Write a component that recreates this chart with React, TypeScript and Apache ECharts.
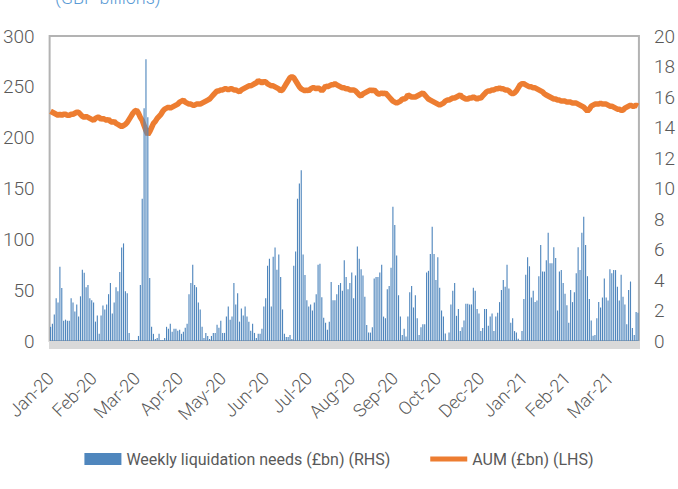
import React, { useEffect, useRef } from "react";
import * as echarts from "echarts";

// Tick labels shown on the category axis (one every labelStep trading days)
const tickLabels = ["Jan-20", "Feb-20", "Mar-20", "Apr-20", "May-20", "Jun-20", "Jul-20", "Aug-20", "Sep-20", "Oct-20", "Dec-20", "Jan-21", "Feb-21", "Mar-21"];
const labelStep = 23;

// Weekly liquidation needs (£bn), RHS
const liquidation = [
  0.93, 1.13, 1.73, 2.8, 2.53, 4.87, 3.47, 1.33, 1.4, 1.33,
  1.33, 2.8, 2.53, 1.93, 2.4, 1.6, 2.93, 4.67, 4.47, 3.53,
  3.67, 2.8, 2.67, 2.53, 1.27, 1.67, 0.47, 1.67, 2.33, 2.07,
  2.4, 3.07, 3.8, 1.8, 2.53, 3.53, 3.27, 4.53, 6.13, 6.4,
  3.27, 3.13, 0.53, 0.07, 0.07, 0.07, 0.07, 0.33, 3.67, 9.33,
  15.27, 18.47, 14.67, 4.13, 0.93, 0.47, 0.13, 0.2, 0.47, 0.07,
  0.07, 0.2, 0.93, 0.8, 1.13, 0.6, 0.8, 0.8, 0.67, 0.73,
  0.47, 0.6, 0.87, 1.13, 3.07, 3.8, 5.0, 3.67, 3.53, 2.53,
  2.07, 0.93, 0.2, 0.53, 0.33, 0.13, 0.33, 0.53, 0.53, 1.07,
  0.87, 1.33, 0.53, 0.53, 1.6, 2.27, 1.4, 1.6, 3.8, 2.4,
  3.13, 1.27, 2.13, 1.67, 2.27, 1.6, 1.27, 0.67, 1.13, 0.53,
  0.2, 0.47, 0.47, 0.8, 2.27, 2.8, 4.93, 5.4, 2.27, 5.53,
  6.13, 4.67, 5.67, 4.2, 2.07, 0.47, 0.27, 0.27, 0.4, 0.13,
  4.93, 5.87, 9.33, 10.33, 11.2, 5.67, 4.33, 2.67, 2.27, 2.4,
  2.0, 2.53, 3.07, 5.0, 5.07, 2.87, 1.53, 1.2, 0.73, 1.27,
  3.87, 2.67, 2.67, 3.07, 3.67,
  3.8, 3.3, 5.3, 4.2, 3.4, 3.8, 4.5, 2.8, 4.3, 6.2,
  5.4, 4.7, 4.3, 2.9, 1.05, 0.55, 0.55, 0.9, 4.1, 4.2,
  4.2, 4.5, 5.0, 1.6, 1.5, 3.4, 3.6, 4.8, 8.8, 7.6,
  5.6, 3.0, 1.6, 0.4, 0.8, 0.3, 1.6, 3.2, 3.6, 2.2,
  3.0, 1.5, 0.4, 0.9, 1.1, 1.1, 4.5, 4.6, 5.7, 7.5,
  5.7, 4.0, 5.5, 3.5, 2.0, 1.6, 0.5, 0, 0.55, 2.4,
  3.3, 3.8, 1.65, 2.1, 0.65, 0.9, 1.35, 2.45, 2.45, 2.4,
  2.4, 3.5, 3.3, 2.1, 1.8, 0.65, 0.85, 2.1, 2.1, 1.0,
  1.6, 1.8, 0.65, 1.6, 1.85, 2.55, 3.35, 4.0, 3.55, 5.0,
  3.45, 1.2, 1.5, 0.65, 0.55, 0.15, 0.05, 0.65, 2.75, 4.35,
  5.5, 4.9, 2.85, 3.3, 2.55, 2.65, 4.25, 6.3, 4.55, 4.55,
  5.3, 7.1, 5.1, 5.1, 6.15, 5.45, 2.0, 4.55, 4.65, 3.8,
  3.1, 2.35, 1.2, 3.35, 2.55, 3.2, 4.45, 6.15, 4.65, 7.1,
  8.15, 6.3, 4.25, 2.75, 1.35, 0.35, 0.4, 1.5, 2.55, 2.2,
  2.85, 4.1, 2.85, 2.65, 4.7, 4.45, 4.65, 4.65, 3.55, 2.65,
  4.35, 2.9, 2.4, 1.1, 3.35, 3.9, 0.85, 0.4, 1.9, 1.85,
];

// AUM (£bn), LHS
const aum = [
  226, 225, 224, 223, 222, 223, 222, 223, 223, 222,
  222, 223, 223, 224, 225, 225, 223, 221, 220, 221,
  220, 219, 218, 217, 219, 220, 220, 218, 219, 218,
  217, 218, 216, 215, 216, 214, 213, 212, 211, 212,
  213, 215, 218, 221, 224, 226, 227, 224, 220, 217,
  212, 207, 203, 206, 210, 214, 216, 219, 221, 223,
  226, 228, 229, 230, 229, 230, 231, 232, 233, 235,
  236, 237, 235, 234, 233, 233, 232, 232, 233, 233,
  233, 234, 235, 236, 237, 238, 240, 242, 244, 246,
  246, 247, 247, 248, 248, 247, 248, 248, 247, 247,
  246, 245, 247, 248, 249, 250, 251, 251, 252, 253,
  254, 256, 255, 254, 255, 255, 253, 252, 251, 251,
  250, 249, 248, 246, 247, 250, 253, 256, 259, 260,
  259, 256, 253, 250, 248, 247, 246, 247, 246, 248,
  249, 249, 248, 249, 248, 246, 248, 251, 250, 251,
  252, 252, 253, 252, 251, 250, 249, 249, 248, 248,
  247, 247, 247, 246, 244, 242, 241, 243, 244, 245,
  246, 247, 246, 247, 245, 243, 243, 244, 243, 244,
  242, 240, 238, 236, 235, 234, 235, 236, 238, 238,
  239, 242, 241, 240, 240, 240, 241, 242, 243, 244,
  242, 240, 238, 237, 236, 235, 234, 233, 232, 233,
  234, 236, 237, 237, 238, 239, 239, 240, 241, 242,
  240, 239, 238, 238, 239, 239, 240, 239, 238, 239,
  239, 241, 243, 245, 246, 246, 247, 247, 248, 248,
  249, 248, 248, 247, 247, 246, 244, 243, 244, 246,
  249, 252, 253, 253, 252, 251, 250, 250, 249, 249,
  248, 247, 246, 245, 243, 242, 241, 240, 239, 238,
  238, 237, 237, 236, 236, 236, 235, 235, 235, 234,
  234, 234, 233, 232, 231, 230, 228, 226, 228, 231,
  232, 233, 233, 233, 234, 233, 233, 233, 232, 231,
  231, 230, 229, 228, 228, 227, 227, 229, 230, 231,
  232, 231, 231, 232, 231,
];

const categories = aum.map((_, i) => String(i));

const FONT = "Roboto, 'Liberation Sans', sans-serif";
const TEXT = "#595959";

export default function App() {
  const ref = useRef<HTMLDivElement>(null);
  useEffect(() => {
    if (!ref.current) return;
    const chart = echarts.init(ref.current, null, { renderer: "svg" });
    chart.setOption({
      animation: false,
      backgroundColor: "#ffffff",
      textStyle: { fontFamily: FONT },
      graphic: [
        {
          type: "text",
          left: 55,
          top: -12,
          style: { text: "(GBP billions)", fill: "#5b9bd5", font: `300 18px ${FONT}` },
        },
      ],
      grid: {
        left: 47,
        right: 37,
        top: 36,
        bottom: 148,
        show: true,
        borderColor: "#b3b3b3",
        borderWidth: 2,
      },
      legend: {
        bottom: 17,
        left: "center",
        itemWidth: 37,
        itemHeight: 12,
        itemGap: 40,
        symbolKeepAspect: true,
        textStyle: { color: TEXT, fontSize: 16, fontWeight: 400, fontFamily: FONT },
        data: [
          { name: "Weekly liquidation needs (£bn) (RHS)", icon: "rect" },
          { name: "AUM (£bn) (LHS)", icon: "path://M0,0H37V5H0Z" },
        ],
      },
      xAxis: {
        type: "category",
        data: categories,
        boundaryGap: true,
        axisLine: { show: false },
        axisTick: {
          show: true,
          interval: 0,
          length: 8,
          lineStyle: { color: "#d9d9d9", width: 2 },
        },
        axisLabel: {
          interval: labelStep - 1,
          rotate: 45,
          margin: 34,
          color: TEXT,
          fontSize: 18,
          fontWeight: 300,
          fontFamily: FONT,
          formatter: (_v: string, idx: number) =>
            idx % labelStep === 0 ? tickLabels[idx / labelStep] ?? "" : "",
        },
        splitLine: { show: false },
      },
      yAxis: [
        {
          type: "value",
          min: 0,
          max: 300,
          interval: 50,
          position: "left",
          axisLine: { show: false },
          axisTick: { show: false },
          splitLine: { show: false },
          axisLabel: { color: TEXT, fontSize: 19, fontWeight: 300, margin: 15, fontFamily: FONT },
        },
        {
          type: "value",
          min: 0,
          max: 20,
          interval: 2,
          position: "right",
          axisLine: { show: false },
          axisTick: { show: false },
          splitLine: { show: false },
          axisLabel: { color: TEXT, fontSize: 19, fontWeight: 300, margin: 15, fontFamily: FONT },
        },
      ],
      series: [
        {
          name: "AUM (£bn) (LHS)",
          type: "line",
          yAxisIndex: 0,
          data: aum,
          symbol: "none",
          z: 2,
          lineStyle: { color: "#ed7d31", width: 5.5 },
          itemStyle: { color: "#ed7d31" },
        },
        {
          name: "Weekly liquidation needs (£bn) (RHS)",
          type: "bar",
          yAxisIndex: 1,
          data: liquidation,
          barCategoryGap: "40%",
          z: 3,
          itemStyle: { color: "#4f86bd" },
        },
      ],
    });
    return () => chart.dispose();
  }, []);
  return (
    <div
      ref={ref}
      style={{ position: "fixed", left: 0, top: 0, width: 678, height: 489, background: "#fff" }}
    />
  );
}
